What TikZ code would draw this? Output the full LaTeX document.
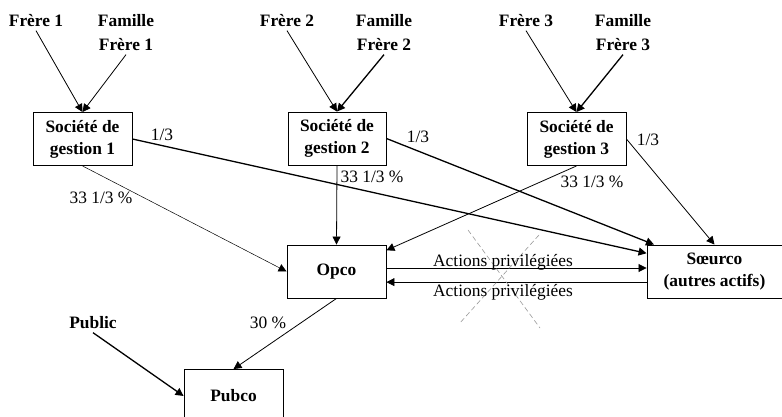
\documentclass[tikz,border=0pt]{standalone}
\usepackage{fontspec}
\setmainfont{Liberation Serif}
\usetikzlibrary{arrows.meta,positioning}

\begin{document}
\begin{tikzpicture}[x=1pt,y=1pt,
  font=\fontsize{17.4}{22}\selectfont,
  box/.style={rectangle, draw, line width=0.9pt, align=center, font=\fontsize{17.4}{22}\selectfont\bfseries, minimum height=53pt},
  who/.style={align=center, font=\fontsize{17.4}{24}\selectfont\bfseries},
  pct/.style={inner sep=1pt},
  arr/.style={-{Triangle[length=8pt,width=8pt]}, line width=0.8pt},
  fat/.style={-{Triangle[length=8pt,width=8pt]}, line width=1.3pt},
  fin/.style={-{Triangle[length=8pt,width=8pt]}, line width=0.5pt}]
\useasboundingbox (0,0) rectangle (782,417);
\node [box, minimum width=99pt] (soc1) at (82.5,278) {Société de\\gestion 1};
\node [box, minimum width=98pt] (soc2) at (337,278.5) {Société de\\gestion 2};
\node [box, minimum width=99pt] (soc3) at (576.5,278) {Société de\\gestion 3};
\node [who] (f1) at (36,396) {Frère 1};
\node [who] (fam1) at (126,384) {Famille\\Frère 1};
\node [who] (f2) at (287,396) {Frère 2};
\node [who] (fam2) at (384,384) {Famille\\Frère 2};
\node [who] (f3) at (526,396) {Frère 3};
\node [who] (fam3) at (623,384) {Famille\\Frère 3};
\draw [arr] (f1.south) -- (soc1.north);
\draw [arr] (fam1.south) -- (soc1.north);
\draw [arr] (f2.south) -- (soc2.north);
\draw [fat] (fam2.south) -- (soc2.north);
\draw [arr] (f3.south) -- (soc3.north);
\draw [fat] (fam3.south) -- (soc3.north);
\node [box, minimum width=99pt] (opco) at (336.5,145.5) {Opco};
\node [box, minimum width=135pt] (seurco) at (714.5,145.5) {Sœurco\\(autres actifs)};
\node [box, minimum width=99pt] (pubco) at (233.5,21) {Pubco};
\node [who] (public) at (93,94) {Public};
\draw [fat] (soc1.east) -- (seurco.165);
\draw [fat] (soc2.east) -- (seurco.156);
\draw [arr] (soc3.east) -- (seurco.north);
\draw [fin] (soc1.south) -- (opco.west);
\draw [arr] (soc2.south) -- (opco.north);
\draw [arr] (soc3.south) -- (opco.23);
\node [pct] (t1) at (162,282) {1/3};
\node [pct] (t2) at (418,280) {1/3};
\node [pct] (t3) at (648,277) {1/3};
\node [pct] (p1) at (101,219) {33 1/3 \%};
\node [pct] (p2) at (372,240) {33 1/3 \%};
\node [pct] (p3) at (592,235) {33 1/3 \%};
\draw [arr] (opco.4) -- (opco.4 -| seurco.west);
\draw [arr] (opco.-12 -| seurco.west) -- (opco.-12);
% croix
\draw [gray!80, dash pattern=on 5pt off 3pt, line width=0.6pt] (468,187) -- (540,89);
\draw [gray!80, dash pattern=on 5pt off 3pt, line width=0.6pt] (539,182) -- (459,93);
\node [pct] (a1) at (503,155) {Actions privilégiées};
\node [pct] (a2) at (503,125) {Actions privilégiées};
\draw [arr] (opco.south) -- (pubco.north);
\draw [fat] (public.south) -- (pubco.west);
\node [pct] (p4) at (268,94) {30 \%};
\end{tikzpicture}
\end{document}
